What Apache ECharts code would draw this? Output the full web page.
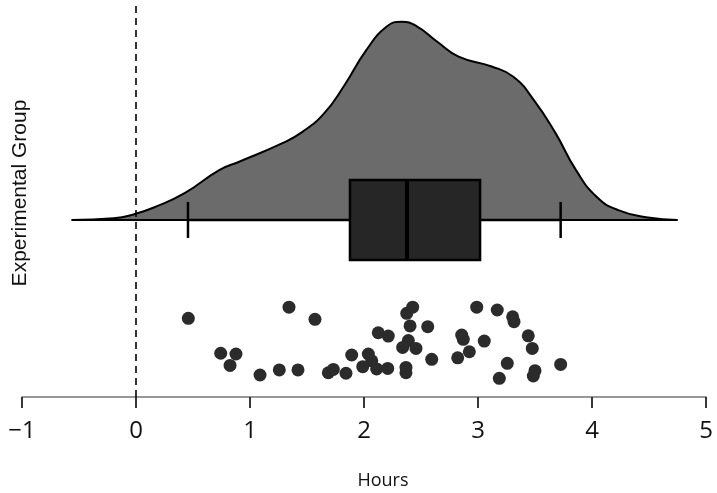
<!DOCTYPE html>
<html>
<head>
<meta charset="utf-8">
<script src="https://cdn.jsdelivr.net/npm/echarts@6/dist/echarts.min.js"></script>
<style>
html,body{margin:0;padding:0;background:#fff;}
#chart{width:717px;height:493px;}
</style>
</head>
<body>
<div id="chart"></div>
<script>
// ---- data ----
const densityX = [-0.565, -0.195, -0.01, 0.174, 0.43, 0.73, 0.91, 1.28, 1.46, 1.65, 1.83, 2.02, 2.20, 2.33, 2.46, 2.64, 2.83, 3.12, 3.31, 3.49, 3.68, 3.86, 4.04, 4.23, 4.49, 4.75];
const densityY = [0, 0.004, 0.014, 0.031, 0.063, 0.116, 0.136, 0.178, 0.205, 0.248, 0.314, 0.395, 0.450, 0.461, 0.451, 0.415, 0.380, 0.357, 0.333, 0.279, 0.202, 0.116, 0.054, 0.023, 0.006, 0];

// whisker low, Q1, median, Q3, whisker high
const boxStats = [0.456, 1.877, 2.377, 3.018, 3.725];
const boxLevel = 7;

const hours = [0.459, 1.342, 1.570, 0.743, 0.877, 0.825, 1.088, 1.257, 1.421, 1.687, 1.731, 1.842, 1.892, 2.038, 1.989, 2.068, 2.111, 2.208, 2.125, 2.213, 2.375, 2.427, 2.404, 2.559, 2.389, 2.339, 2.456, 2.368, 2.368, 2.594, 2.989, 3.169, 3.304, 3.316, 2.857, 2.871, 3.055, 3.441, 3.476, 2.924, 2.822, 3.257, 3.725, 3.187, 3.500, 3.485];
const jitter = [3.11, 3.55, 3.07, 1.73, 1.70, 1.25, 0.87, 1.07, 1.07, 0.96, 1.09, 0.94, 1.66, 1.70, 1.20, 1.43, 1.11, 1.13, 2.54, 2.41, 3.31, 3.55, 2.81, 2.78, 2.23, 1.96, 1.92, 1.17, 0.96, 1.49, 3.55, 3.44, 3.17, 2.98, 2.45, 2.28, 2.21, 2.42, 1.92, 1.79, 1.55, 1.33, 1.29, 0.74, 1.04, 0.83];

const xTicks = [-1, 0, 1, 2, 3, 4, 5];
const xName = 'Hours';
const yName = 'Experimental Group';

// ---- chart ----
const chart = echarts.init(document.getElementById('chart'), null, {renderer: 'canvas'});

const densityData = densityX.map((x, i) => [x, densityY[i]]);
const pointData = hours.map((h, i) => [h, jitter[i]]);

const option = {
  animation: false,
  backgroundColor: '#ffffff',
  grid: [
    {left: 22, right: 11, top: 5, height: 215},
    {left: 22, right: 11, top: 5, bottom: 96}
  ],
  xAxis: [
    {gridIndex: 0, type: 'value', min: xTicks[0], max: xTicks[xTicks.length - 1], interval: 1, show: false},
    {
      gridIndex: 1, type: 'value', min: xTicks[0], max: xTicks[xTicks.length - 1], interval: 1,
      splitLine: {show: false},
      axisLine: {show: true, onZero: false, lineStyle: {color: '#777', width: 1.5}},
      axisTick: {show: true, inside: false, length: 11, lineStyle: {color: '#222', width: 1.8}},
      axisLabel: {
        show: true, margin: 22, color: '#111',
        fontFamily: 'Open Sans', fontSize: 24,
        formatter: v => (v < 0 ? '\u2212' + Math.abs(v) : String(v))
      }
    }
  ],
  yAxis: [
    {gridIndex: 0, type: 'value', min: 0, max: 0.5, show: false},
    {gridIndex: 1, type: 'value', min: 0, max: 15.5, show: false}
  ],
  graphic: [
    {
      type: 'text', x: 383, y: 481,
      style: {text: xName, font: '18px "Open Sans"', fill: '#111', align: 'center', verticalAlign: 'middle'}
    },
    {
      type: 'text', x: 20, y: 193, rotation: Math.PI / 2,
      style: {text: yName, font: '21px "Liberation Sans"', fill: '#111', align: 'center', verticalAlign: 'middle'}
    }
  ],
  series: [
    {
      type: 'line', xAxisIndex: 0, yAxisIndex: 0,
      data: densityData, smooth: 0.5,
      symbol: 'none', clip: false, z: 1,
      lineStyle: {color: '#000', width: 2},
      areaStyle: {color: '#6b6b6b', opacity: 1, origin: 'start'}
    },
    {
      type: 'line', xAxisIndex: 0, yAxisIndex: 0,
      data: [[densityX[0], 0], [densityX[densityX.length - 1], 0]],
      symbol: 'none', z: 2,
      lineStyle: {color: '#000', width: 2}
    },
    {
      type: 'scatter', xAxisIndex: 1, yAxisIndex: 1,
      data: pointData, symbolSize: 13, z: 3,
      itemStyle: {color: '#2b2b2b', opacity: 1},
      markLine: {
        silent: true, symbol: 'none', z: 6,
        label: {show: false},
        lineStyle: {color: '#000', type: [7, 5], width: 1.6},
        data: [{xAxis: 0}]
      }
    },
    {
      type: 'custom', xAxisIndex: 1, yAxisIndex: 1, z: 4,
      data: [[boxStats[0], boxStats[1], boxStats[2], boxStats[3], boxStats[4], boxLevel]],
      encode: {x: [0, 1, 2, 3, 4], y: 5},
      renderItem: function (params, api) {
        const c = api.value(5);
        const pLo = api.coord([api.value(0), c]);
        const pQ1 = api.coord([api.value(1), c]);
        const pMed = api.coord([api.value(2), c]);
        const pQ3 = api.coord([api.value(3), c]);
        const pHi = api.coord([api.value(4), c]);
        const yc = pLo[1];
        const half = 40, cap = 18;
        return {
          type: 'group',
          children: [
            {type: 'line', shape: {x1: pLo[0], y1: yc, x2: pHi[0], y2: yc}, style: {stroke: '#000', lineWidth: 2.5}},
            {type: 'line', shape: {x1: pLo[0], y1: yc - cap, x2: pLo[0], y2: yc + cap}, style: {stroke: '#000', lineWidth: 2.5}},
            {type: 'line', shape: {x1: pHi[0], y1: yc - cap, x2: pHi[0], y2: yc + cap}, style: {stroke: '#000', lineWidth: 2.5}},
            {type: 'rect', shape: {x: pQ1[0], y: yc - half, width: pQ3[0] - pQ1[0], height: half * 2},
              style: {fill: '#262626', stroke: '#000', lineWidth: 2.5}},
            {type: 'line', shape: {x1: pMed[0], y1: yc - half, x2: pMed[0], y2: yc + half}, style: {stroke: '#000', lineWidth: 4}}
          ]
        };
      }
    }
  ]
};
chart.setOption(option);
</script>
</body>
</html>
